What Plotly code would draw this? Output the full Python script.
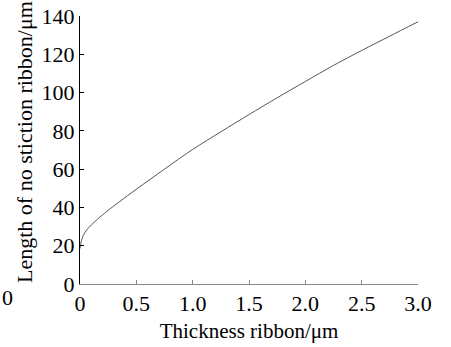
import plotly.graph_objects as go

thickness = [0, 0.01, 0.03, 0.06, 0.1, 0.15, 0.25, 0.35, 0.5, 0.75, 1.0, 1.25, 1.5, 1.75, 2.0, 2.25, 2.5, 2.75, 3.0]
length = [18.5, 22, 25.5, 28.3, 30.8, 33.6, 38.5, 43, 49.5, 60, 70.3, 79.5, 88.5, 97.3, 105.8, 114.2, 122, 129.5, 137]

x_ticks = [0, 0.5, 1.0, 1.5, 2.0, 2.5, 3.0]
x_tick_labels = ["0", "0.5", "1.0", "1.5", "2.0", "2.5", "3.0"]
y_ticks = [0, 20, 40, 60, 80, 100, 120, 140]

font = "Times New Roman, Liberation Serif, serif"
L, R, T, B = 80, 33, 16, 63
W, H = 451, 347
pw, ph = W - L - R, H - T - B

fig = go.Figure()
fig.add_trace(go.Scatter(x=thickness, y=length, mode="lines",
                         line=dict(color="#555555", width=1, shape="spline", smoothing=0.8),
                         showlegend=False))

fig.update_layout(
    width=W, height=H,
    margin=dict(l=L, r=R, t=T, b=B, autoexpand=False),
    paper_bgcolor="white", plot_bgcolor="white",
    font=dict(family=font, size=22, color="black"),
    xaxis=dict(range=[0, 3], tickvals=x_ticks, ticktext=x_tick_labels, ticks="inside", ticklen=4,
               tickcolor="#888888", showline=True, linecolor="#888888", linewidth=1, showgrid=False,
               zeroline=False, automargin=False,
               title=dict(text="Thickness ribbon/μm", standoff=7, font=dict(family=font, size=21)),
               tickfont=dict(family=font, size=22)),
    yaxis=dict(range=[0, 140], tickvals=y_ticks, ticks="inside", ticklen=4, tickcolor="black",
               showline=True, linecolor="black", linewidth=1, showgrid=False, zeroline=False,
               automargin=False, tickfont=dict(family=font, size=22)),
)
fig.add_annotation(text="Length of no stiction ribbon/μm", textangle=-90, xref="paper", yref="paper",
                   x=(24 - L) / pw, y=(H - B - 142) / ph, showarrow=False,
                   font=dict(family=font, size=22), xanchor="center", yanchor="middle")
fig.add_annotation(text="0", xref="paper", yref="paper", x=(7 - L) / pw, y=(H - B - 297) / ph,
                   showarrow=False, font=dict(family=font, size=22), xanchor="center", yanchor="middle")

fig.write_html("out.html", config={"displayModeBar": False},
               post_script="document.body.style.margin='0';document.body.style.padding='0';")
